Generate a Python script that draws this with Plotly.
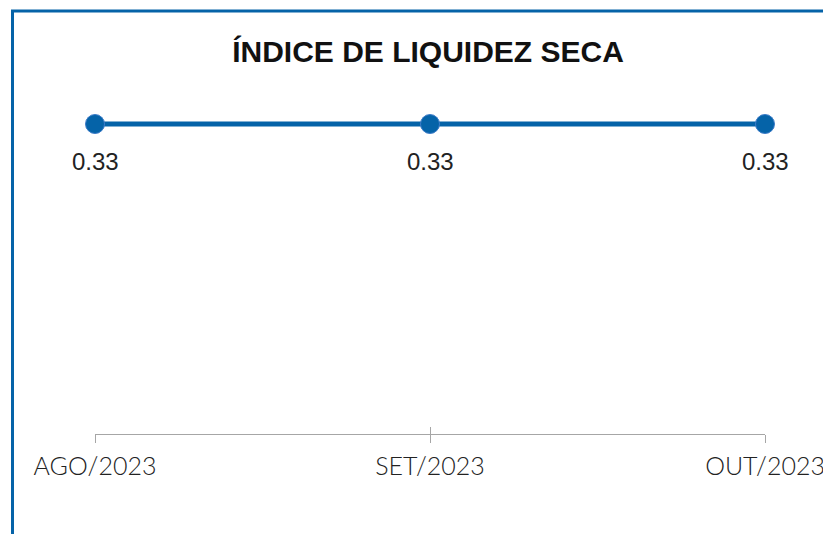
import plotly.graph_objects as go

categories = ["AGO/2023", "SET/2023", "OUT/2023"]
values = [0.33, 0.33, 0.33]
labels = ["0.33", "0.33", "0.33"]
title_text = "ÍNDICE DE LIQUIDEZ SECA"

OFF = 8  # default page margin of the html body
W, H = 831 - OFF, 534 - OFF
ML, MR, MT, MB = 95 - OFF, 66, 100 - OFF, 534 - 434
plot_w = W - ML - MR
plot_h = H - MT - MB
axis_px = H - MB
point_px = 124 - OFF
ymax = values[0] / ((axis_px - point_px) / plot_h)

blue = "#0563A8"

fig = go.Figure()
fig.add_trace(go.Scatter(
    x=categories, y=values, mode="lines+markers",
    line=dict(color=blue, width=5),
    marker=dict(size=19, color=blue, line=dict(color="#3D7CC9", width=1)),
    cliponaxis=False, hoverinfo="skip", showlegend=False,
))
# helper trace so the overlaid axis (inner tick marks) is drawn
fig.add_trace(go.Scatter(
    x=categories, y=values, xaxis="x2", mode="markers",
    marker=dict(opacity=0), hoverinfo="skip", showlegend=False,
))

annotations = [
    dict(x=c, y=v, text=t, xref="x", yref="y", showarrow=False,
         yshift=-37, font=dict(family="Liberation Sans, Arial", size=24, color="#222222"))
    for c, v, t in zip(categories, values, labels)
]

def px_x(p):
    return (p - OFF - ML) / plot_w

def px_y(p):
    return (axis_px - (p - OFF)) / plot_h

fig.update_layout(
    width=W, height=H,
    margin=dict(l=ML, r=MR, t=MT, b=MB, autoexpand=False),
    paper_bgcolor="white", plot_bgcolor="white",
    title=dict(text="<b>" + title_text + "</b>", x=0.5 - 2 / plot_w, xref="paper",
               y=1 - (51 - OFF) / H, yanchor="middle",
               font=dict(family="Liberation Sans, Arial", size=30, color="#111111")),
    xaxis=dict(type="category", range=[0, 2], showgrid=False, zeroline=False,
               automargin=False,
               showline=True, linecolor="#A6A6A6", linewidth=1,
               ticks="outside", ticklen=8, tickcolor="#A6A6A6", tickwidth=1,
               tickfont=dict(family="Lato, DejaVu Sans", size=25, color="#222222", weight=300),
               ticklabelstandoff=2),
    xaxis2=dict(type="category", range=[0, 2], overlaying="x", anchor="y", side="bottom",
                showgrid=False, zeroline=False, showline=False, automargin=False,
                ticks="inside", ticklen=7, tickcolor="#A6A6A6", tickwidth=1,
                showticklabels=False),
    yaxis=dict(range=[0, ymax], visible=False, fixedrange=True, automargin=False),
    annotations=annotations,
    shapes=[dict(type="rect", xref="paper", yref="paper",
                 x0=px_x(12.5), x1=px_x(831 + 20), y0=px_y(534 + 20), y1=px_y(11),
                 line=dict(color=blue, width=3), fillcolor="rgba(0,0,0,0)", layer="above")],
)

fig.write_html("out.html")
